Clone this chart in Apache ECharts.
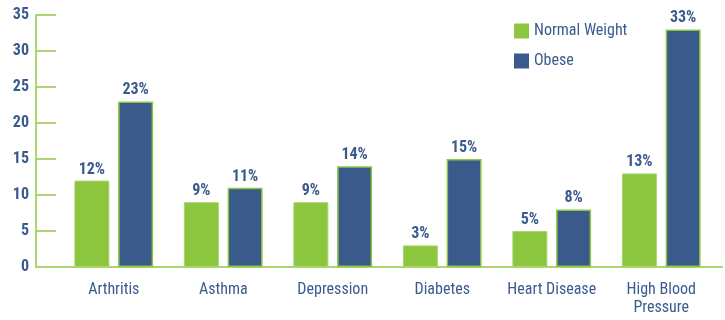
<!DOCTYPE html>
<html><head><meta charset="utf-8">
<script src="https://cdn.jsdelivr.net/npm/echarts@6/dist/echarts.min.js"></script>
<style>html,body{margin:0;padding:0;background:#fff}#c{width:725px;height:320px}</style>
</head><body><div id="c"></div>
<script>
const categories = ['Arthritis','Asthma','Depression','Diabetes','Heart Disease','High Blood\nPressure'];
const normalWeight = [12, 9, 9, 3, 5, 13];
const obese = [23, 11, 14, 15, 8, 33];
const seriesNames = ['Normal Weight', 'Obese'];

const FONT = '"Roboto Condensed","DejaVu Sans Condensed",sans-serif';
const TXT = '#3b5a8e';
const GREEN = '#8cc63f';
const BLUE = '#3a5a8c';
const AXIS = '#a9d670';

const chart = echarts.init(document.getElementById('c'), null, {renderer:'canvas'});
const lbl = {show:true, position:'top', distance:3, formatter:'{c}%', color:TXT, fontFamily:FONT, fontSize:16, fontWeight:'bold'};
chart.setOption({
  animation:false,
  textStyle:{fontFamily:FONT},
  legend:{orient:'vertical', left:514, top:23, itemWidth:15, itemHeight:15, itemGap:14, padding:0,
    icon:'rect', itemStyle:{borderWidth:0},
    textStyle:{color:TXT, fontFamily:FONT, fontSize:16, lineHeight:16}, data:seriesNames},
  grid:[
    {left:59, right:9, top:15, bottom:53},
    {left:36, right:3, top:15, bottom:53}
  ],
  xAxis:[
    {type:'category', gridIndex:0, data:categories,
      axisLine:{show:false}, axisTick:{show:false},
      axisLabel:{color:TXT, fontFamily:FONT, fontSize:16, margin:14, lineHeight:18, interval:0}},
    {type:'category', gridIndex:1, data:[''],
      axisLine:{show:true, lineStyle:{color:AXIS, width:2}}, axisTick:{show:false}, axisLabel:{show:false}}
  ],
  yAxis:[
    {type:'value', gridIndex:0, min:0, max:35, interval:5, show:false},
    {type:'value', gridIndex:1, min:0, max:35, interval:5,
      axisLine:{show:true, lineStyle:{color:AXIS, width:2}},
      axisTick:{show:true, inside:true, length:20, lineStyle:{color:AXIS, width:2}},
      splitLine:{show:false},
      axisLabel:{color:TXT, fontFamily:FONT, fontSize:16, fontWeight:'bold', margin:7, padding:[5,0,0,0]}}
  ],
  series:[
    {name:seriesNames[0], type:'bar', xAxisIndex:0, yAxisIndex:0, data:normalWeight, barWidth:35, barGap:'25%',
      itemStyle:{color:GREEN, borderColor:AXIS, borderWidth:1}, label:lbl},
    {name:seriesNames[1], type:'bar', xAxisIndex:0, yAxisIndex:0, data:obese, barWidth:35, barGap:'25%',
      itemStyle:{color:BLUE, borderColor:GREEN, borderWidth:1.5}, label:lbl}
  ]
});
</script></body></html>
